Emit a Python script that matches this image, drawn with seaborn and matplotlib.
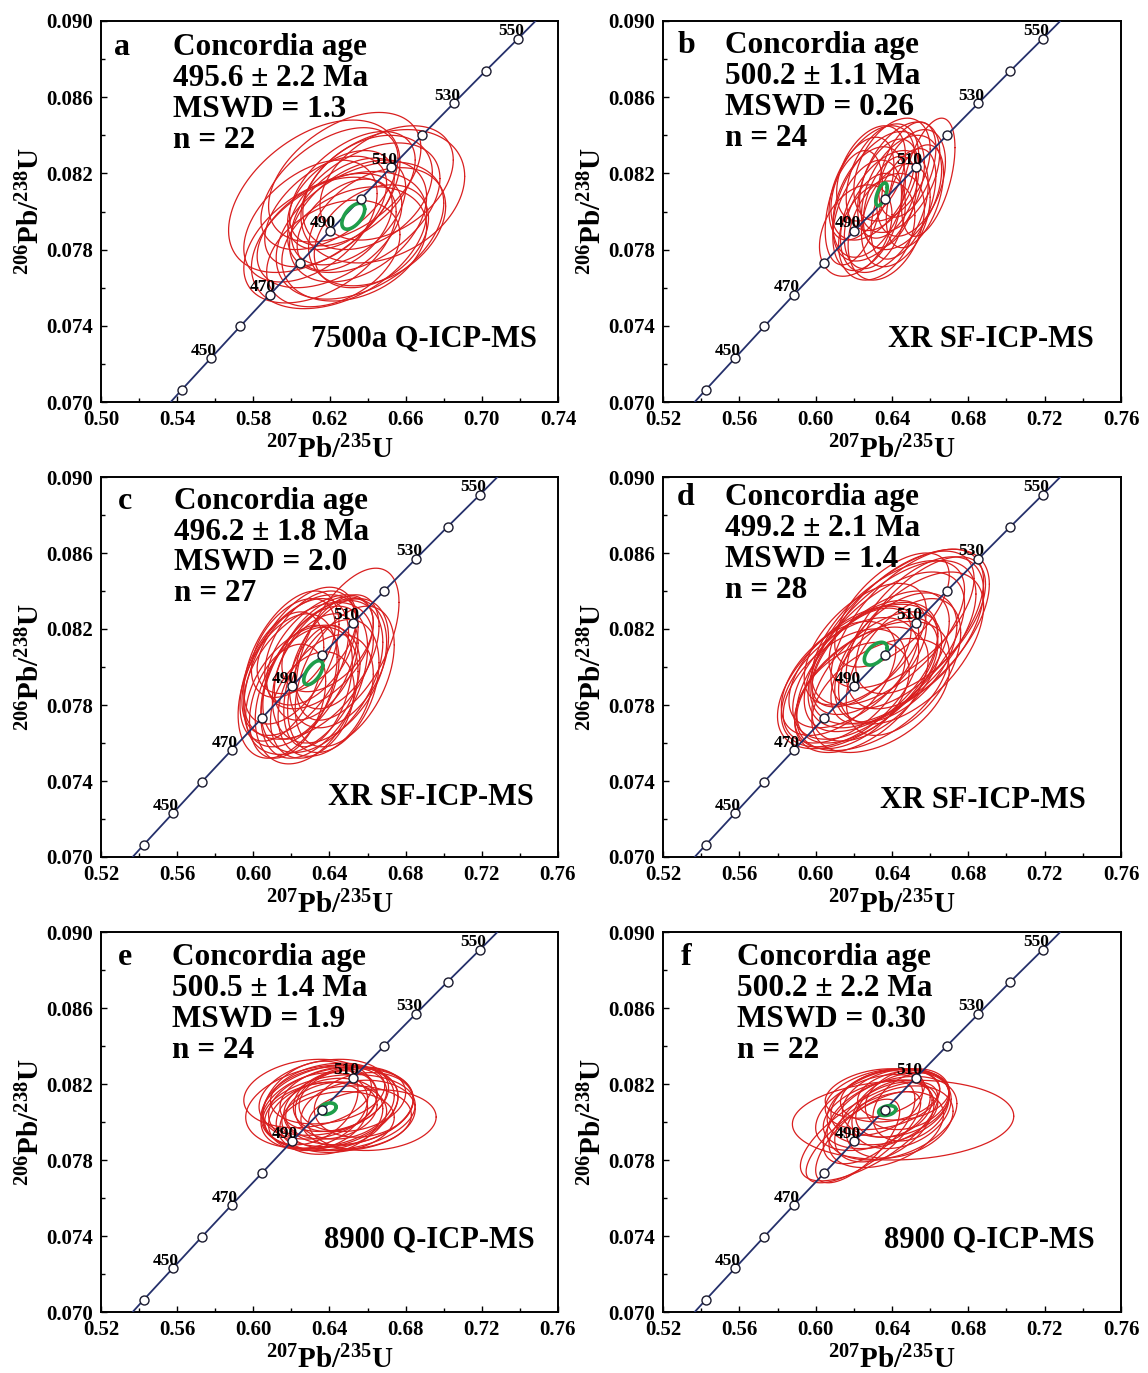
import numpy as np
import pandas as pd
import matplotlib
matplotlib.use('Agg')
import matplotlib.pyplot as plt
import seaborn as sns
from matplotlib.ticker import FixedLocator, FormatStrFormatter

# ---------------- data ----------------
# Concordia reference points (age in Ma, 207Pb/235U, 206Pb/238U)
conc_age = [440, 450, 460, 470, 480, 490, 500, 510, 520, 530, 540, 550]
conc_x = [0.5424, 0.5577, 0.5731, 0.5886, 0.6044, 0.6202, 0.6363, 0.6525, 0.6688, 0.6853, 0.7020, 0.7189]
conc_y = [0.07064, 0.07230, 0.07397, 0.07563, 0.07730, 0.07898, 0.08065, 0.08233, 0.08401, 0.08569, 0.08738, 0.08906]
# where the concordia leaves the plotted window
conc_start = (0.5366, 0.0700)
conc_end = (0.7282, 0.0900)
labelled_ages = [450, 470, 490, 510, 530, 550]

panel_letters = ['a', 'b', 'c', 'd', 'e', 'f']
x_ticks_a = [0.50, 0.54, 0.58, 0.62, 0.66, 0.70, 0.74]
x_ticks = [0.52, 0.56, 0.60, 0.64, 0.68, 0.72, 0.76]
y_ticks = [0.070, 0.074, 0.078, 0.082, 0.086, 0.090]
ages_text = ['495.6 ± 2.2 Ma', '500.2 ± 1.1 Ma', '496.2 ± 1.8 Ma',
             '499.2 ± 2.1 Ma', '500.5 ± 1.4 Ma', '500.2 ± 2.2 Ma']
mswd_text = ['MSWD = 1.3', 'MSWD = 0.26', 'MSWD = 2.0',
             'MSWD = 1.4', 'MSWD = 1.9', 'MSWD = 0.30']
n_text = ['n = 22', 'n = 24', 'n = 27', 'n = 28', 'n = 24', 'n = 22']
instrument = ['7500a Q-ICP-MS', 'XR SF-ICP-MS', 'XR SF-ICP-MS',
              'XR SF-ICP-MS', '8900 Q-ICP-MS', '8900 Q-ICP-MS']

# error ellipses: centre x, centre y, half-extent x, half-extent y, correlation
ell_a = [
    (0.612, 0.0808, 0.045, 0.0040, 0.45), (0.648, 0.0808, 0.043, 0.0035, 0.30),
    (0.625, 0.0785, 0.046, 0.0036, 0.40), (0.628, 0.0818, 0.040, 0.0034, 0.45),
    (0.620, 0.0790, 0.038, 0.0030, 0.45), (0.635, 0.0795, 0.036, 0.0032, 0.40),
    (0.630, 0.0800, 0.030, 0.0028, 0.45), (0.640, 0.0810, 0.034, 0.0030, 0.35),
    (0.618, 0.0800, 0.032, 0.0029, 0.50), (0.633, 0.0783, 0.038, 0.0030, 0.30),
    (0.645, 0.0792, 0.036, 0.0031, 0.35), (0.610, 0.0795, 0.035, 0.0032, 0.45),
    (0.626, 0.0806, 0.028, 0.0026, 0.45), (0.638, 0.0802, 0.040, 0.0034, 0.45),
    (0.622, 0.0778, 0.035, 0.0028, 0.35), (0.650, 0.0815, 0.035, 0.0030, 0.40),
    (0.615, 0.0785, 0.040, 0.0033, 0.45), (0.632, 0.0812, 0.033, 0.0030, 0.50),
    (0.628, 0.0793, 0.025, 0.0024, 0.45), (0.642, 0.0787, 0.030, 0.0027, 0.35),
    (0.620, 0.0812, 0.036, 0.0032, 0.50), (0.636, 0.0790, 0.044, 0.0036, 0.40),
]
ell_b = [
    (0.621, 0.0790, 0.019, 0.0024, 0.35), (0.659, 0.0818, 0.014, 0.0031, 0.50),
    (0.632, 0.0790, 0.020, 0.0026, 0.30), (0.640, 0.0822, 0.020, 0.0027, 0.40),
    (0.630, 0.0815, 0.022, 0.0030, 0.45), (0.645, 0.0810, 0.021, 0.0030, 0.40),
    (0.628, 0.0805, 0.019, 0.0029, 0.40), (0.636, 0.0800, 0.023, 0.0032, 0.45),
    (0.650, 0.0815, 0.018, 0.0028, 0.40), (0.624, 0.0812, 0.017, 0.0027, 0.45),
    (0.638, 0.0812, 0.016, 0.0026, 0.40), (0.633, 0.0808, 0.024, 0.0034, 0.50),
    (0.642, 0.0798, 0.018, 0.0027, 0.35), (0.627, 0.0798, 0.018, 0.0029, 0.40),
    (0.648, 0.0822, 0.015, 0.0025, 0.45), (0.635, 0.0818, 0.019, 0.0028, 0.40),
    (0.631, 0.0795, 0.016, 0.0025, 0.35), (0.644, 0.0818, 0.021, 0.0029, 0.45),
    (0.620, 0.0802, 0.015, 0.0030, 0.40), (0.639, 0.0805, 0.014, 0.0024, 0.40),
    (0.652, 0.0808, 0.015, 0.0027, 0.45), (0.629, 0.0820, 0.018, 0.0025, 0.40),
    (0.637, 0.0792, 0.020, 0.0028, 0.35), (0.646, 0.0804, 0.017, 0.0029, 0.50),
]
ell_c = [
    (0.6495, 0.0812, 0.027, 0.0040, 0.55), (0.618, 0.0790, 0.026, 0.0038, 0.40),
    (0.625, 0.0800, 0.030, 0.0042, 0.50), (0.632, 0.0792, 0.028, 0.0040, 0.45),
    (0.640, 0.0798, 0.030, 0.0038, 0.40), (0.628, 0.0785, 0.027, 0.0036, 0.35),
    (0.620, 0.0805, 0.025, 0.0035, 0.50), (0.645, 0.0802, 0.026, 0.0034, 0.40),
    (0.635, 0.0808, 0.028, 0.0030, 0.50), (0.615, 0.0795, 0.022, 0.0034, 0.45),
    (0.630, 0.0810, 0.024, 0.0030, 0.45), (0.642, 0.0790, 0.024, 0.0035, 0.35),
    (0.625, 0.0792, 0.020, 0.0030, 0.40), (0.638, 0.0785, 0.025, 0.0032, 0.35),
    (0.622, 0.0800, 0.028, 0.0036, 0.50), (0.648, 0.0795, 0.026, 0.0037, 0.45),
    (0.633, 0.0800, 0.022, 0.0028, 0.45), (0.628, 0.0812, 0.026, 0.0026, 0.50),
    (0.618, 0.0782, 0.020, 0.0030, 0.35), (0.636, 0.0795, 0.032, 0.0040, 0.45),
    (0.626, 0.0788, 0.030, 0.0034, 0.40), (0.644, 0.0808, 0.022, 0.0030, 0.45),
    (0.631, 0.0780, 0.022, 0.0028, 0.30), (0.621, 0.0810, 0.022, 0.0026, 0.45),
    (0.639, 0.0812, 0.024, 0.0025, 0.45), (0.629, 0.0798, 0.034, 0.0036, 0.45),
    (0.634, 0.0790, 0.018, 0.0032, 0.40),
]
ell_d = [
    (0.644, 0.0816, 0.047, 0.0046, 0.60), (0.622, 0.0795, 0.042, 0.0038, 0.55),
    (0.648, 0.0820, 0.040, 0.0042, 0.60), (0.640, 0.0812, 0.044, 0.0044, 0.60),
    (0.652, 0.0818, 0.036, 0.0040, 0.55), (0.636, 0.0808, 0.042, 0.0042, 0.60),
    (0.645, 0.0825, 0.038, 0.0036, 0.60), (0.618, 0.0792, 0.036, 0.0034, 0.50),
    (0.626, 0.0798, 0.038, 0.0036, 0.55), (0.630, 0.0800, 0.040, 0.0040, 0.60),
    (0.615, 0.0790, 0.032, 0.0030, 0.50), (0.624, 0.0788, 0.035, 0.0033, 0.50),
    (0.632, 0.0795, 0.034, 0.0034, 0.55), (0.620, 0.0800, 0.034, 0.0032, 0.55),
    (0.650, 0.0810, 0.038, 0.0040, 0.55), (0.638, 0.0818, 0.040, 0.0038, 0.60),
    (0.628, 0.0805, 0.030, 0.0030, 0.55), (0.642, 0.0805, 0.032, 0.0034, 0.50),
    (0.612, 0.0794, 0.030, 0.0030, 0.50), (0.634, 0.0785, 0.036, 0.0030, 0.45),
    (0.655, 0.0822, 0.034, 0.0036, 0.60), (0.626, 0.0812, 0.032, 0.0032, 0.55),
    (0.619, 0.0785, 0.030, 0.0028, 0.45), (0.646, 0.0800, 0.030, 0.0036, 0.50),
    (0.636, 0.0798, 0.028, 0.0028, 0.50), (0.630, 0.0790, 0.040, 0.0034, 0.50),
    (0.640, 0.0830, 0.030, 0.0030, 0.60), (0.624, 0.0805, 0.026, 0.0026, 0.55),
]
ell_e = [
    (0.6285, 0.0815, 0.0335, 0.0018, 0.20), (0.6625, 0.0801, 0.0335, 0.0016, 0.10),
    (0.640, 0.0808, 0.036, 0.0022, 0.25), (0.645, 0.0805, 0.040, 0.0020, 0.20),
    (0.635, 0.0810, 0.030, 0.0019, 0.25), (0.650, 0.0808, 0.034, 0.0020, 0.20),
    (0.638, 0.0803, 0.032, 0.0018, 0.15), (0.642, 0.0812, 0.028, 0.0017, 0.25),
    (0.632, 0.0806, 0.028, 0.0020, 0.30), (0.655, 0.0804, 0.030, 0.0018, 0.15),
    (0.648, 0.0810, 0.026, 0.0019, 0.20), (0.637, 0.0813, 0.034, 0.0020, 0.25),
    (0.644, 0.0800, 0.030, 0.0016, 0.15), (0.630, 0.0810, 0.025, 0.0022, 0.30),
    (0.652, 0.0812, 0.028, 0.0017, 0.20), (0.641, 0.0806, 0.024, 0.0015, 0.20),
    (0.646, 0.0808, 0.038, 0.0021, 0.20), (0.634, 0.0803, 0.026, 0.0018, 0.25),
    (0.658, 0.0809, 0.026, 0.0017, 0.15), (0.639, 0.0815, 0.030, 0.0016, 0.25),
    (0.649, 0.0802, 0.034, 0.0017, 0.10), (0.636, 0.0808, 0.040, 0.0022, 0.25),
    (0.643, 0.0811, 0.022, 0.0016, 0.20), (0.640, 0.0803, 0.028, 0.0020, 0.20),
]
ell_f = [
    (0.6458, 0.0801, 0.058, 0.0021, 0.10), (0.628, 0.0795, 0.036, 0.0026, 0.70),
    (0.625, 0.0792, 0.030, 0.0024, 0.75), (0.638, 0.0808, 0.032, 0.0020, 0.30),
    (0.642, 0.0810, 0.028, 0.0018, 0.25), (0.635, 0.0812, 0.030, 0.0016, 0.30),
    (0.645, 0.0806, 0.026, 0.0020, 0.30), (0.630, 0.0805, 0.030, 0.0020, 0.40),
    (0.640, 0.0802, 0.034, 0.0022, 0.35), (0.648, 0.0812, 0.022, 0.0016, 0.25),
    (0.636, 0.0800, 0.026, 0.0021, 0.45), (0.632, 0.0810, 0.024, 0.0017, 0.35),
    (0.644, 0.0800, 0.028, 0.0019, 0.30), (0.639, 0.0814, 0.026, 0.0014, 0.25),
    (0.628, 0.0800, 0.024, 0.0022, 0.55), (0.650, 0.0808, 0.020, 0.0018, 0.30),
    (0.634, 0.0804, 0.030, 0.0018, 0.35), (0.641, 0.0807, 0.020, 0.0015, 0.30),
    (0.622, 0.0790, 0.022, 0.0022, 0.70), (0.646, 0.0814, 0.024, 0.0013, 0.20),
    (0.637, 0.0796, 0.030, 0.0020, 0.40), (0.631, 0.0815, 0.026, 0.0013, 0.30),
]
ellipses = [ell_a, ell_b, ell_c, ell_d, ell_e, ell_f]

# concordia-age ellipses (green)
conc_ell = [
    (0.6325, 0.07975, 0.0060, 0.00068, 0.55),
    (0.6345, 0.08090, 0.0030, 0.00060, 0.60),
    (0.6315, 0.07970, 0.0050, 0.00063, 0.60),
    (0.6315, 0.08070, 0.0060, 0.00060, 0.50),
    (0.6390, 0.08070, 0.0045, 0.00030, 0.30),
    (0.6375, 0.08060, 0.0045, 0.00026, 0.30),
]

# ---------------- layout / style ----------------
fig_w, fig_h = 1148, 1373
col_px = [(101, 457), (663, 458)]
row_px = [(21, 402), (477, 857), (932, 1312)]
letter_x = [0.028, 0.033, 0.036, 0.031, 0.036, 0.039]
text_x = [0.158, 0.135, 0.159, 0.135, 0.156, 0.162]
text_y0 = [0.911, 0.917, 0.917, 0.926, 0.912, 0.914]
line_step = 0.0815
inst_x = [0.954, 0.940, 0.947, 0.924, 0.949, 0.942]
inst_y = [0.145, 0.145, 0.138, 0.130, 0.170, 0.170]

RED = '#d91f1f'
GREEN = '#1f9e4a'
NAVY = '#25306b'

sns.set_theme(style='ticks')
plt.rcParams['font.family'] = ['Liberation Serif', 'DejaVu Serif']
plt.rcParams['font.weight'] = 'bold'
plt.rcParams['text.color'] = 'black'
plt.rcParams['axes.labelcolor'] = 'black'
plt.rcParams['xtick.color'] = 'black'
plt.rcParams['ytick.color'] = 'black'
plt.rcParams['mathtext.fontset'] = 'custom'
plt.rcParams['mathtext.rm'] = 'Liberation Serif:bold'
plt.rcParams['mathtext.bf'] = 'Liberation Serif:bold'
plt.rcParams['mathtext.it'] = 'Liberation Serif:bold'
plt.rcParams['mathtext.default'] = 'rm'

t = np.linspace(0, 2 * np.pi, 240)


def ellipse_frame(params):
    rows = []
    for i, (cx, cy, sx, sy, r) in enumerate(params):
        xs = cx + sx * np.cos(t)
        ys = cy + sy * (r * np.cos(t) + np.sqrt(1 - r * r) * np.sin(t))
        rows.append(pd.DataFrame({'x': xs, 'y': ys, 'id': i}))
    return pd.concat(rows, ignore_index=True)


fig = plt.figure(figsize=(fig_w / 100, fig_h / 100), dpi=100)
fig.patch.set_facecolor('white')

line_x = [conc_start[0]] + conc_x + [conc_end[0]]
line_y = [conc_start[1]] + conc_y + [conc_end[1]]

for k in range(6):
    r, c = divmod(k, 2)
    lpx, wpx = col_px[c]
    tpx, bpx = row_px[r]
    ax = fig.add_axes([lpx / fig_w, (fig_h - bpx) / fig_h, wpx / fig_w, (bpx - tpx) / fig_h])

    df = ellipse_frame(ellipses[k])
    sns.lineplot(data=df, x='x', y='y', units='id', estimator=None, sort=False,
                 color=RED, lw=0.9, ax=ax, legend=False, zorder=2)

    sns.lineplot(x=line_x, y=line_y, sort=False, estimator=None, color=NAVY,
                 lw=1.3, ax=ax, zorder=3)

    dg = ellipse_frame([conc_ell[k]])
    sns.lineplot(data=dg, x='x', y='y', units='id', estimator=None, sort=False,
                 color=GREEN, lw=2.6, ax=ax, legend=False, zorder=4)

    sns.scatterplot(x=conc_x, y=conc_y, s=42, color='white', edgecolor='#1a1a2e',
                    linewidth=1.0, ax=ax, zorder=5, legend=False)

    for a, xv, yv in zip(conc_age, conc_x, conc_y):
        if a in labelled_ages:
            ax.annotate(str(a), (xv, yv), xytext=(4.5, 2.5), textcoords='offset points',
                        ha='right', va='baseline', fontsize=12.5, fontweight='bold',
                        color='black', zorder=6)

    xt = x_ticks_a if k == 0 else x_ticks
    ax.set_xlim(xt[0], xt[-1])
    ax.set_ylim(y_ticks[0], y_ticks[-1])
    ax.xaxis.set_major_locator(FixedLocator(xt))
    ax.xaxis.set_minor_locator(FixedLocator([(u + v) / 2 for u, v in zip(xt[:-1], xt[1:])]))
    ax.yaxis.set_major_locator(FixedLocator(y_ticks))
    ax.yaxis.set_minor_locator(FixedLocator([(u + v) / 2 for u, v in zip(y_ticks[:-1], y_ticks[1:])]))
    ax.xaxis.set_major_formatter(FormatStrFormatter('%.2f'))
    ax.yaxis.set_major_formatter(FormatStrFormatter('%.3f'))
    ax.tick_params(which='both', direction='in', colors='black', labelsize=15,
                   top=False, right=False)
    ax.tick_params(which='major', length=4, width=1.0, pad=6)
    ax.tick_params(which='minor', length=3, width=1.0)
    for lab in ax.get_xticklabels() + ax.get_yticklabels():
        lab.set_fontweight('bold')
    for sp in ax.spines.values():
        sp.set_visible(True)
        sp.set_color('black')
        sp.set_linewidth(1.4)

    ax.set_xlabel(r'$^{207}$Pb/$^{235}$U', fontsize=21, fontweight='bold', labelpad=4)
    ax.set_ylabel(r'$^{206}$Pb/$^{238}$U', fontsize=21, fontweight='bold', labelpad=0)

    tr = ax.transAxes
    ax.text(letter_x[k], text_y0[k], panel_letters[k], transform=tr, fontsize=23,
            fontweight='bold', ha='left', va='baseline', zorder=7)
    lines = ['Concordia age', ages_text[k], mswd_text[k], n_text[k]]
    for j, s in enumerate(lines):
        ax.text(text_x[k], text_y0[k] - j * line_step, s, transform=tr, fontsize=22.5,
                fontweight='bold', ha='left', va='baseline', zorder=7)
    ax.text(inst_x[k], inst_y[k], instrument[k], transform=tr, fontsize=22,
            fontweight='bold', ha='right', va='baseline', zorder=7)

fig.savefig('out.png', dpi=100, facecolor='white')
